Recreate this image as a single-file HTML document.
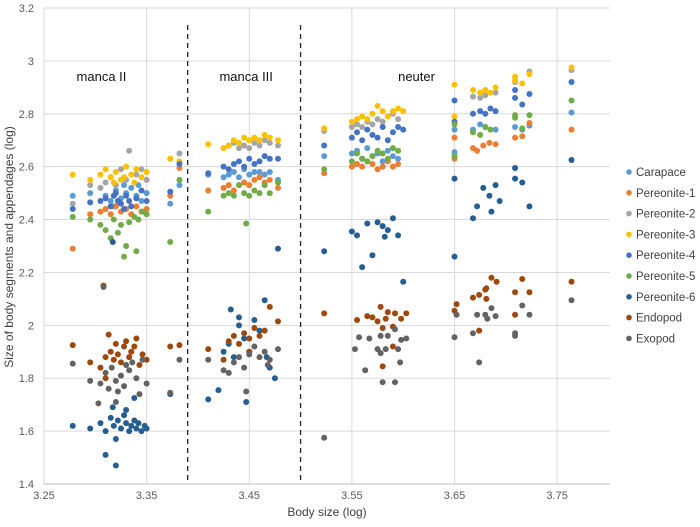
<!DOCTYPE html>
<html><head><meta charset="utf-8"><style>
html,body{margin:0;padding:0;background:#fff;}
svg{display:block;font-family:"Liberation Sans",sans-serif;}
</style></head><body>
<svg id="chart" width="700" height="527" viewBox="0 0 700 527"></svg>
<script>
const xTicks=[3.25,3.35,3.45,3.55,3.65,3.75];
const yTicks=[1.4,1.6,1.8,2,2.2,2.4,2.6,2.8,3,3.2];
const yTickLabels=["1.4","1.6","1.8","2","2.2","2.4","2.6","2.8","3","3.2"];
const seriesNames=["Carapace","Pereonite-1","Pereonite-2","Pereonite-3","Pereonite-4","Pereonite-5","Pereonite-6","Endopod","Exopod"];
const seriesColors=["#5b9bd5","#ed7d31","#a5a5a5","#ffc000","#4472c4","#70ad47","#255e91","#9e480e","#636363"];
const stageDividers=[3.39,3.50];
const stageLabels=["manca II","manca III","neuter"];
const stageLabelX=[3.306,3.447,3.613];

const carapace=[[3.278,2.49],[3.295,2.50],[3.31,2.49],[3.315,2.47],[3.32,2.51],[3.325,2.48],[3.33,2.50],[3.335,2.52],[3.34,2.49],[3.345,2.47],[3.35,2.50],[3.318,2.45],[3.328,2.53],[3.342,2.53],[3.373,2.46],[3.382,2.53],
[3.41,2.57],[3.425,2.56],[3.43,2.57],[3.435,2.58],[3.44,2.56],[3.445,2.59],[3.45,2.57],[3.455,2.58],[3.46,2.58],[3.465,2.57],[3.47,2.58],[3.478,2.55],
[3.523,2.64],[3.55,2.65],[3.555,2.66],[3.56,2.63],[3.565,2.67],[3.57,2.64],[3.575,2.65],[3.58,2.62],[3.585,2.66],[3.59,2.64],[3.595,2.63],[3.65,2.74],[3.65,2.655],[3.668,2.74],[3.675,2.76],[3.68,2.75],[3.69,2.74],[3.709,2.75],[3.716,2.74],[3.723,2.755],[3.764,2.805]];
const pereonite1=[[3.278,2.29],[3.295,2.42],[3.305,2.43],[3.31,2.44],[3.315,2.42],[3.32,2.45],[3.325,2.43],[3.33,2.44],[3.335,2.42],[3.34,2.45],[3.345,2.43],[3.35,2.44],[3.373,2.49],[3.382,2.595],
[3.41,2.51],[3.425,2.52],[3.43,2.53],[3.435,2.51],[3.44,2.53],[3.445,2.54],[3.45,2.53],[3.455,2.55],[3.46,2.56],[3.465,2.54],[3.47,2.55],[3.478,2.52],
[3.523,2.575],[3.55,2.60],[3.555,2.61],[3.56,2.60],[3.565,2.62],[3.57,2.61],[3.575,2.59],[3.58,2.60],[3.585,2.62],[3.59,2.60],[3.595,2.61],[3.65,2.71],[3.65,2.63],[3.668,2.67],[3.672,2.66],[3.678,2.68],[3.684,2.69],[3.69,2.685],[3.709,2.71],[3.716,2.715],[3.723,2.765],[3.764,2.74]];
const pereonite2=[[3.278,2.46],[3.295,2.53],[3.305,2.52],[3.31,2.54],[3.315,2.56],[3.32,2.53],[3.325,2.59],[3.33,2.55],[3.333,2.66],[3.34,2.57],[3.345,2.59],[3.35,2.55],[3.382,2.65],
[3.425,2.67],[3.43,2.68],[3.435,2.69],[3.44,2.67],[3.445,2.68],[3.45,2.67],[3.455,2.69],[3.46,2.68],[3.465,2.70],[3.47,2.69],[3.478,2.68],
[3.523,2.735],[3.55,2.75],[3.555,2.76],[3.56,2.75],[3.565,2.77],[3.57,2.76],[3.575,2.78],[3.58,2.77],[3.585,2.79],[3.59,2.80],[3.595,2.78],[3.668,2.865],[3.675,2.86],[3.68,2.87],[3.69,2.88],[3.709,2.92],[3.723,2.96],[3.764,2.965]];
const pereonite3=[[3.278,2.57],[3.295,2.55],[3.305,2.57],[3.31,2.59],[3.315,2.56],[3.32,2.58],[3.325,2.55],[3.33,2.60],[3.335,2.57],[3.34,2.59],[3.345,2.56],[3.35,2.58],[3.318,2.54],[3.328,2.56],[3.338,2.54],[3.373,2.63],[3.382,2.62],
[3.41,2.685],[3.425,2.67],[3.43,2.68],[3.435,2.70],[3.44,2.69],[3.445,2.71],[3.45,2.70],[3.455,2.71],[3.46,2.70],[3.465,2.72],[3.47,2.71],[3.478,2.70],
[3.523,2.745],[3.55,2.77],[3.555,2.78],[3.56,2.79],[3.565,2.78],[3.57,2.80],[3.575,2.83],[3.58,2.81],[3.585,2.79],[3.59,2.81],[3.595,2.82],[3.60,2.81],[3.65,2.91],[3.65,2.79],[3.668,2.89],[3.675,2.88],[3.68,2.89],[3.685,2.88],[3.69,2.90],[3.709,2.94],[3.709,2.925],[3.716,2.915],[3.723,2.95],[3.764,2.975]];
const pereonite4=[[3.278,2.44],[3.295,2.465],[3.305,2.47],[3.31,2.48],[3.315,2.45],[3.32,2.50],[3.322,2.47],[3.325,2.46],[3.33,2.49],[3.333,2.47],[3.335,2.45],[3.34,2.48],[3.345,2.51],[3.35,2.47],[3.318,2.49],[3.328,2.44],[3.373,2.505],[3.382,2.61],
[3.41,2.575],[3.425,2.60],[3.43,2.59],[3.435,2.61],[3.44,2.62],[3.445,2.60],[3.45,2.63],[3.455,2.61],[3.46,2.62],[3.465,2.64],[3.47,2.63],[3.478,2.63],
[3.523,2.68],[3.55,2.71],[3.555,2.73],[3.56,2.70],[3.565,2.74],[3.57,2.72],[3.575,2.71],[3.58,2.75],[3.585,2.70],[3.59,2.73],[3.595,2.75],[3.60,2.74],[3.65,2.85],[3.65,2.77],[3.668,2.80],[3.675,2.81],[3.68,2.80],[3.685,2.82],[3.69,2.81],[3.709,2.89],[3.709,2.86],[3.716,2.835],[3.723,2.875],[3.764,2.92]];
const pereonite5=[[3.278,2.41],[3.295,2.40],[3.305,2.38],[3.31,2.36],[3.315,2.33],[3.318,2.40],[3.322,2.35],[3.325,2.38],[3.33,2.30],[3.333,2.39],[3.338,2.41],[3.342,2.40],[3.346,2.43],[3.35,2.42],[3.328,2.26],[3.34,2.28],[3.373,2.315],[3.382,2.55],
[3.41,2.43],[3.425,2.49],[3.43,2.50],[3.435,2.49],[3.44,2.53],[3.445,2.50],[3.45,2.49],[3.455,2.51],[3.46,2.50],[3.465,2.53],[3.47,2.50],[3.478,2.54],[3.447,2.385],
[3.523,2.59],[3.55,2.62],[3.555,2.65],[3.56,2.63],[3.565,2.62],[3.57,2.64],[3.575,2.66],[3.58,2.65],[3.585,2.63],[3.59,2.67],[3.595,2.66],[3.65,2.76],[3.65,2.64],[3.668,2.73],[3.675,2.72],[3.68,2.75],[3.685,2.74],[3.709,2.795],[3.709,2.785],[3.716,2.745],[3.723,2.795],[3.764,2.85]];
const pereonite6=[[3.278,1.62],[3.295,1.61],[3.305,1.63],[3.31,1.60],[3.31,1.51],[3.315,1.65],[3.318,1.62],[3.32,1.47],[3.322,1.64],[3.325,1.61],[3.328,1.66],[3.33,1.63],[3.333,1.60],[3.335,1.62],[3.338,1.64],[3.34,1.61],[3.342,1.63],[3.345,1.60],[3.348,1.62],[3.35,1.61],[3.32,1.57],[3.317,1.69],[3.33,1.68],[3.338,1.725],[3.373,1.74],[3.317,2.315],
[3.41,1.72],[3.42,1.755],[3.425,1.90],[3.43,1.93],[3.432,2.06],[3.435,1.88],[3.44,2.0],[3.445,1.95],[3.447,1.71],[3.45,1.90],[3.455,2.02],[3.46,1.98],[3.465,2.095],[3.467,1.88],[3.47,1.84],[3.475,1.80],[3.478,2.29],[3.44,2.03],
[3.523,2.28],[3.55,2.355],[3.555,2.34],[3.56,2.22],[3.565,2.385],[3.57,2.265],[3.575,2.39],[3.58,2.375],[3.582,2.335],[3.585,2.36],[3.59,2.405],[3.595,2.34],[3.60,2.165],[3.65,2.555],[3.65,2.26],[3.668,2.405],[3.672,2.45],[3.678,2.52],[3.684,2.49],[3.69,2.53],[3.694,2.47],[3.686,2.43],[3.709,2.595],[3.709,2.555],[3.716,2.54],[3.723,2.45],[3.764,2.625]];
const endopod=[[3.278,1.925],[3.295,1.86],[3.308,2.15],[3.305,1.84],[3.31,1.88],[3.313,1.965],[3.315,1.90],[3.318,1.87],[3.32,1.93],[3.322,1.89],[3.325,1.86],[3.328,1.92],[3.33,1.94],[3.333,1.88],[3.335,1.90],[3.338,1.92],[3.34,1.95],[3.343,1.85],[3.346,1.89],[3.35,1.87],[3.373,1.92],[3.382,1.925],[3.31,1.80],
[3.41,1.91],[3.425,1.87],[3.43,1.94],[3.435,1.96],[3.44,1.93],[3.445,1.97],[3.45,1.95],[3.455,1.99],[3.46,1.96],[3.465,1.98],[3.47,2.07],[3.478,2.015],[3.45,1.90],
[3.523,2.045],[3.555,2.02],[3.565,2.035],[3.57,2.03],[3.578,2.07],[3.585,2.05],[3.592,2.045],[3.603,2.045],[3.575,2.015],[3.583,2.025],[3.598,2.025],[3.58,1.99],[3.59,1.995],[3.59,1.92],[3.58,1.845],
[3.65,2.055],[3.652,2.08],[3.668,2.105],[3.674,2.115],[3.68,2.135],[3.681,2.14],[3.686,2.18],[3.691,2.165],[3.681,2.10],[3.674,1.98],[3.709,2.125],[3.709,2.04],[3.716,2.175],[3.723,2.125],[3.764,2.165]];
const exopod=[[3.278,1.855],[3.295,1.79],[3.308,2.145],[3.303,1.705],[3.305,1.78],[3.31,1.82],[3.313,1.76],[3.316,1.84],[3.32,1.79],[3.322,1.75],[3.325,1.81],[3.328,1.77],[3.33,1.85],[3.333,1.83],[3.336,1.86],[3.34,1.80],[3.343,1.74],[3.346,1.87],[3.35,1.78],[3.32,1.71],[3.373,1.745],[3.382,1.87],
[3.41,1.87],[3.425,1.83],[3.43,1.82],[3.435,1.86],[3.44,1.88],[3.445,1.84],[3.45,1.89],[3.455,1.92],[3.46,1.88],[3.465,1.90],[3.468,1.85],[3.47,1.87],[3.447,1.75],[3.478,1.91],
[3.523,1.575],[3.557,1.955],[3.567,1.95],[3.578,1.96],[3.585,1.96],[3.592,1.985],[3.598,1.945],[3.603,1.95],[3.553,1.91],[3.575,1.91],[3.583,1.91],[3.595,1.91],[3.578,1.895],[3.563,1.83],[3.597,1.86],[3.58,1.785],[3.592,1.785],
[3.652,2.04],[3.65,1.955],[3.672,2.04],[3.68,2.04],[3.69,2.035],[3.686,2.065],[3.682,2.025],[3.668,1.97],[3.674,1.86],[3.709,1.97],[3.709,1.96],[3.716,2.075],[3.723,2.04],[3.764,2.095]];
const seriesData=[carapace,pereonite1,pereonite2,pereonite3,pereonite4,pereonite5,pereonite6,endopod,exopod];

const NS="http://www.w3.org/2000/svg";
const svg=document.getElementById('chart');
const L=44,R=610,T=8,B=484,X0=3.25,X1=3.8015,Y0=1.4,Y1=3.2;
function sx(v){return L+(v-X0)/(X1-X0)*(R-L);}
function sy(v){return B-(v-Y0)/(Y1-Y0)*(B-T);}
function mk(tag,attrs,parent){const e=document.createElementNS(NS,tag);for(const k in attrs)e.setAttribute(k,attrs[k]);(parent||svg).appendChild(e);return e;}

const grid=mk('g',{});


yTicks.forEach((v,i)=>{
  if(i>0){const l=mk('line',{x1:L,x2:R,y1:sy(v),y2:sy(v),stroke:'#d9d9d9','stroke-width':1},grid);
  
  }
  const t=mk('text',{x:L-10,y:sy(v)+4,'text-anchor':'end','font-size':11,fill:'#595959'});
  t.textContent=yTickLabels[i];
  
  
});
xTicks.forEach(v=>{
  if(v>X0){const l=mk('line',{x1:sx(v),x2:sx(v),y1:T,y2:B,stroke:'#d9d9d9','stroke-width':1},grid);
  
  }
  const t=mk('text',{x:sx(v),y:B+15,'text-anchor':'middle','font-size':11,fill:'#595959'});
  t.textContent=v.toFixed(2);
  
  
});
const ax=mk('line',{x1:L,x2:R,y1:B,y2:B,stroke:'#bfbfbf','stroke-width':1});


const ay=mk('line',{x1:L,x2:L,y1:T,y2:B,stroke:'#d9d9d9','stroke-width':1});



stageDividers.forEach(v=>{
  const d=mk('line',{x1:sx(v),x2:sx(v),y1:25,y2:B,stroke:'#222','stroke-width':1.3,'stroke-dasharray':'5,4'});
  
  
});
stageLabels.forEach((s,i)=>{
  const t=mk('text',{x:sx(stageLabelX[i]),y:81,'text-anchor':'middle','font-size':13,fill:'#111'});
  t.textContent=s;
  
  
});

seriesData.forEach((pts,si)=>{
  const g=mk('g',{fill:seriesColors[si]});
  
  
  pts.forEach(p=>{
    const c=mk('circle',{cx:sx(p[0]),cy:sy(p[1]),r:3},g);
    
    
  });
});

const lg=mk('g',{});


seriesNames.forEach((n,i)=>{
  const y=172+i*20.8;
  const e=mk('g',{},lg);
  
  
  mk('circle',{cx:629,cy:y,r:2.8,fill:seriesColors[i]},e);
  const t=mk('text',{x:636,y:y+4,'font-size':11.5,fill:'#404040'},e);
  t.textContent=n;
});

const xt=mk('text',{x:327,y:516,'text-anchor':'middle','font-size':12,fill:'#404040'});
xt.textContent='Body size (log)';


const yt=mk('text',{x:0,y:0,'text-anchor':'middle','font-size':12,fill:'#404040',transform:'translate(13,247) rotate(-90)'});
yt.textContent='Size of body segments and appendages (log)';


</script>
</body></html>
